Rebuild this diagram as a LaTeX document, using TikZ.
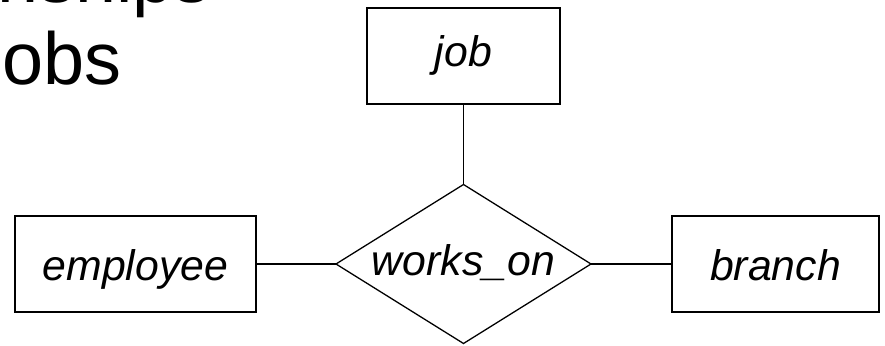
\documentclass[tikz,border=0pt]{standalone}
\usepackage{fontspec}
\setmainfont{Liberation Sans}
\usetikzlibrary{shapes.geometric}

\begin{document}
\begin{tikzpicture}[x=0.03cm, y=0.03cm, thin]
  \tikzstyle{entity}=[rectangle, draw=black, line width=1.1pt, minimum height=96*0.03cm, inner sep=0pt, outer sep=0pt, text depth=0pt, text height=33*0.03cm, font=\fontsize{36.5}{40}\selectfont\itshape]
  \tikzstyle{relation}=[diamond, aspect=1.6, draw=black, line width=1.1pt, minimum width=255*0.03cm, minimum height=159*0.03cm, inner sep=0pt, outer sep=0pt, text depth=0pt, text height=24*0.03cm, font=\fontsize{36.5}{40}\selectfont\itshape]
  \tikzstyle{titre}=[anchor=base west, inner sep=0pt, font=\fontsize{63}{70}\selectfont]

	\useasboundingbox (0,0) rectangle (885,346);
	\clip (0,0) rectangle (885,346);

	% title, cut off by the frame
	\node[titre] (T1) at (-3,343) {nships};
	\node[titre] (T2) at (2,261) {obs};

	\node[entity, minimum width=193*0.03cm, text height=22*0.03cm] (Job) at (463.5,290) {job};
	\node[relation]                          (WorksOn)  at (463.5,82)  {works\_on};
	\node[entity, minimum width=241*0.03cm] (Employee) at (135.5,82)  {employee};
	\node[entity, minimum width=207*0.03cm] (Branch)   at (775.5,82)  {branch};

	\path[line width=1.1pt]
		(Job) edge (WorksOn)
		(Employee) edge (WorksOn)
		(WorksOn) edge (Branch)
		;

\end{tikzpicture}
\end{document}
